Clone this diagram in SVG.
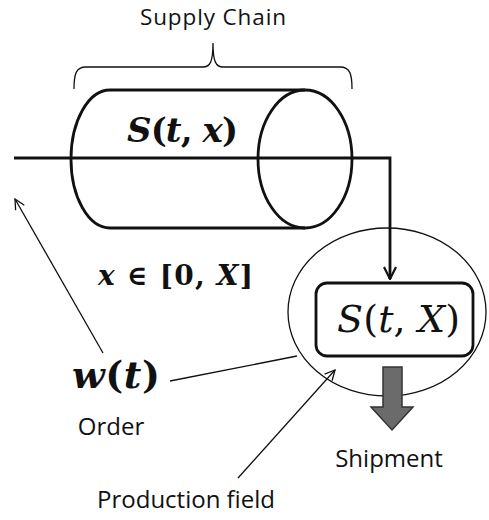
<svg xmlns="http://www.w3.org/2000/svg" width="489" height="520" viewBox="0 0 489 520">
<defs>
<style>
.lbl{font-family:"Open Sans","Liberation Sans",sans-serif;font-size:24px;fill:#111}
.math{font-family:"DejaVu Serif","Liberation Serif",serif;font-weight:bold;fill:#111}
.it{font-style:italic}
.thick{fill:none;stroke:#111;stroke-width:2.8}
.thin{fill:none;stroke:#111;stroke-width:1.3}
</style>
<marker id="open" viewBox="0 0 12 12" refX="11" refY="6" markerWidth="12" markerHeight="12" markerUnits="userSpaceOnUse" orient="auto">
<path d="M1,1 L11,6 L1,11" fill="none" stroke="#111" stroke-width="1.3"/>
</marker>
<marker id="open2" viewBox="0 0 14 14" refX="13" refY="7" markerWidth="14" markerHeight="14" markerUnits="userSpaceOnUse" orient="auto">
<path d="M1,1 L13,7 L1,13" fill="none" stroke="#111" stroke-width="2.2"/>
</marker>
</defs>
<rect width="489" height="520" fill="#fff"/>
<g id="supply-chain">
<text class="lbl" x="213" y="24.5" text-anchor="middle" style="font-size:22.5px" textLength="146" lengthAdjust="spacing">Supply Chain</text>
<path class="thin" d="M74,89 C74,74 76,67 86,67 L203,67 C210,67 213,62 213,43 C213,62 216,67 223,67 L340,67 C350,67 352,74 352,89" stroke-width="1.6"/>
</g>
<g id="cylinder">
<path class="thick" d="M110,90 L305,90 M110,228 L305,228 M110,90 A39,69 0 0 0 110,228"/>
<ellipse class="thick" cx="305" cy="159" rx="47" ry="69"/>
<text class="math" x="127" y="142" font-size="34" textLength="111" lengthAdjust="spacing"><tspan class="it">S</tspan>(<tspan class="it">t</tspan>, <tspan class="it">x</tspan>)</text>
</g>
<g id="range">
<text class="math" x="98" y="285" font-size="28" textLength="155" lengthAdjust="spacing"><tspan class="it">x</tspan> ∈ [0, <tspan class="it">X</tspan>]</text>
</g>
<g id="production-field">
<ellipse class="thin" cx="387" cy="312" rx="99" ry="84"/>
</g>
<g id="stock">
<rect x="316" y="283" width="157" height="73" rx="11" ry="11" fill="#fff" stroke="#111" stroke-width="2.8"/>
<text x="337" y="332" font-size="38" textLength="123" lengthAdjust="spacing" font-family="DejaVu Serif, Liberation Serif, serif" fill="#111"><tspan class="it">S</tspan>(<tspan class="it">t</tspan>, <tspan class="it">X</tspan>)</text>
</g>
<g id="shipment">
<path d="M383,367 L402,367 L402,407 L413,407 L392,430 L371,407 L383,407 Z" fill="#6b6b6b" stroke="#333" stroke-width="1.5"/>
<text class="lbl" x="389" y="467" text-anchor="middle">Shipment</text>
</g>
<g id="order">
<text class="math" x="72" y="388" font-size="38" textLength="88" lengthAdjust="spacing"><tspan class="it">w</tspan>(<tspan class="it">t</tspan>)</text>
<text class="lbl" x="111" y="435" text-anchor="middle">Order</text>
</g>
<g id="production-label">
<text class="lbl" x="186" y="508" text-anchor="middle">Production field</text>
</g>
<g id="connectors">
<path class="thick" d="M14,158 L390,158 L390,279" marker-end="url(#open2)"/>
<path class="thin" d="M103,353 L15,199" marker-end="url(#open)"/>
<path class="thin" d="M170,381 L297,356"/>
<path class="thin" d="M238,478 L335,370" marker-end="url(#open)"/>
</g>
</svg>
